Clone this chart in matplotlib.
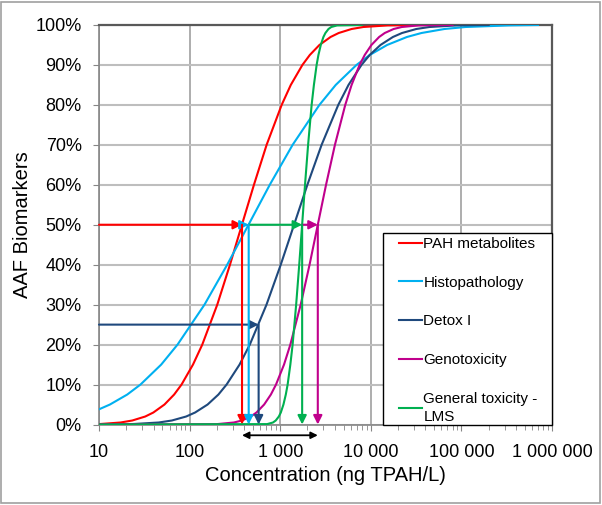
import numpy as np
import matplotlib
matplotlib.use("Agg")
import matplotlib.pyplot as plt
from matplotlib.patches import Rectangle
from matplotlib.ticker import FixedLocator, LogLocator, NullFormatter

plt.rcParams['font.family'] = ['Liberation Sans', 'DejaVu Sans']

levels = [0.1, 0.5, 1, 2, 3, 5, 7.5, 10, 15, 20, 30, 40, 50, 60, 70, 80,
          85, 90, 92.5, 95, 97, 98, 99, 99.5, 99.9]

# concentrations (ng TPAH/L) where each curve crosses those levels
pah_x = [17.3, 23.3, 32.4, 39.8, 52.8, 67.5, 81.5, 109, 138, 202, 279, 378,
         513, 708, 1038, 1309, 1758, 2123, 2710, 3597, 4426, 6138, 8279, 15310]
histo_x = [13.2, 20.5, 28.7, 48.6, 73.6, 146, 260, 447, 767, 1371, 2710,
           4102, 6950, 9750, 15140, 25060, 36310, 65010, 111200, 334200]
detox_x = [23.0, 45.6, 63.7, 91.6, 115, 158, 208, 256, 356, 462, 706, 1014,
           1422, 1995, 2864, 4375, 5675, 7889, 9727, 12790, 17540, 22130,
           31770, 44360, 88100]
geno_x = [201, 308, 378, 474, 547, 665, 789, 899, 1102, 1294, 1683, 2109,
          2600, 3206, 4018, 5224, 6138, 7516, 8570, 10160, 12360, 14260,
          17860, 21980, 33650]
lms_x = [718, 832, 893, 966, 1016, 1086, 1153, 1208, 1294, 1371, 1500, 1622,
         1746, 1879, 2032, 2223, 2355, 2523, 2642, 2805, 2999, 3155, 3412,
         3664, 4246]

series = ["PAH metabolites", "Histopathology", "Detox I", "Genotoxicity",
          "General toxicity -\nLMS"]
colors = ["#FF0000", "#00B0F0", "#1F497D", "#C0008C", "#00B050"]

# curve x, y (start at 10, end on 100 %)
pah_xy = ([10] + pah_x + [40000], [0.1] + levels[1:] + [100])
histo_xy = ([10] + histo_x + [700000], [3.8] + levels[5:] + [100])
detox_xy = ([10] + detox_x + [200000], [0] + levels + [100])
geno_xy = ([10] + geno_x + [80000], [0] + levels + [100])
lms_xy = ([10] + lms_x + [8000], [0] + levels + [100])

# EC50 / EC25 read-offs with arrows
ec_x = [379, 449, 578, 2600, 1747]
ec_y = [50, 50, 25, 50, 50]
range_x = [379, 2600]

xticks = [10, 100, 1000, 10000, 100000, 1000000]
xtick_labels = ["10", "100", "1 000", "10 000", "100 000", "1 000 000"]
yticks = list(range(0, 101, 10))

fig = plt.figure(figsize=(6.02, 5.05), dpi=100)
ax = fig.add_axes([99 / 602, 1 - 424.5 / 505, 453 / 602, 399.5 / 505])

handles = []
for (x, y), c in zip([pah_xy, histo_xy, detox_xy, geno_xy, lms_xy], colors):
    ln, = ax.plot(x, y, color=c, lw=1.5, zorder=3)
    handles.append(ln)

ax.set_xscale('log')
ax.set_xlim(10, 1000000)
ax.set_ylim(0, 100)

arrow = dict(arrowstyle='-|>', lw=1.5, mutation_scale=13,
             shrinkA=0, shrinkB=0)
# horizontal arrows: the 50 % chain and the 25 % detox one
order50 = [0, 1, 4, 3]
prev = 10
for i in order50:
    ax.annotate("", xy=(ec_x[i], ec_y[i]), xytext=(prev, ec_y[i]),
                arrowprops=dict(arrow, color=colors[i]), zorder=4)
    prev = ec_x[i]
ax.annotate("", xy=(ec_x[2], ec_y[2]), xytext=(10, ec_y[2]),
            arrowprops=dict(arrow, color=colors[2]), zorder=4)
# vertical drops to the x axis
for i in range(5):
    ax.annotate("", xy=(ec_x[i], 0), xytext=(ec_x[i], ec_y[i]),
                arrowprops=dict(arrow, color=colors[i]), zorder=4)
# range arrow under the axis
ax.annotate("", xy=(range_x[1], -2.7), xytext=(range_x[0], -2.7),
            arrowprops=dict(arrowstyle='<|-|>', color='black', lw=1.3,
                            mutation_scale=10, shrinkA=0, shrinkB=0),
            annotation_clip=False)

ax.xaxis.set_major_locator(FixedLocator(xticks))
ax.set_xticklabels(xtick_labels)
ax.xaxis.set_minor_locator(LogLocator(base=10, subs=np.arange(2, 10)))
ax.xaxis.set_minor_formatter(NullFormatter())
ax.set_yticks(yticks)
ax.set_yticklabels([f"{v}%" for v in yticks])
ax.tick_params(axis='both', which='major', labelsize=13, length=4,
               color='#868686', direction='out')
ax.tick_params(axis='y', which='major', pad=8.5)
ax.tick_params(axis='x', which='major', pad=10)
ax.tick_params(axis='x', which='minor', length=3.5, color='#868686')

ax.grid(True, axis='y', color='#BEBEBE', lw=1.5)
ax.grid(True, axis='x', which='major', color='#A0A0A0', lw=1.2)
ax.set_axisbelow(True)
for s in ['left', 'bottom']:
    ax.spines[s].set_color('#868686')
    ax.spines[s].set_linewidth(1.2)
for s in ['top', 'right']:
    ax.spines[s].set_color('#595959')
    ax.spines[s].set_linewidth(1.6)

ax.set_xlabel("Concentration (ng TPAH/L)", fontsize=14.5)
ax.set_ylabel("AAF Biomarkers", fontsize=14.5)
ax.xaxis.set_label_coords(0.5, (424.5 - 466) / 399.5)
ax.yaxis.set_label_coords((32 - 99) / 453, 0.5)

# legend box in the lower right corner of the plot
ax.add_patch(Rectangle(((383 - 99) / 453, 0), (552 - 383) / 453,
                       (424.5 - 233.5) / 399.5, transform=ax.transAxes,
                       facecolor='white', edgecolor='black', lw=1.0,
                       zorder=5, clip_on=False))
leg = ax.legend(handles, series, loc='upper left',
                bbox_to_anchor=((399 - 99) / 453, (424.5 - 237) / 399.5),
                borderaxespad=0, borderpad=0, fontsize=11, frameon=False,
                handlelength=1.5, handletextpad=0.1, labelspacing=1.62)
leg.set_zorder(6)
leg.get_texts()[4].set_linespacing(1.35)

fig.patches.append(Rectangle((0.002, 0.004), 0.995, 0.992,
                             transform=fig.transFigure, fill=False,
                             edgecolor='#A0A0A0', lw=1.2))

fig.savefig("out.png", dpi=100)
